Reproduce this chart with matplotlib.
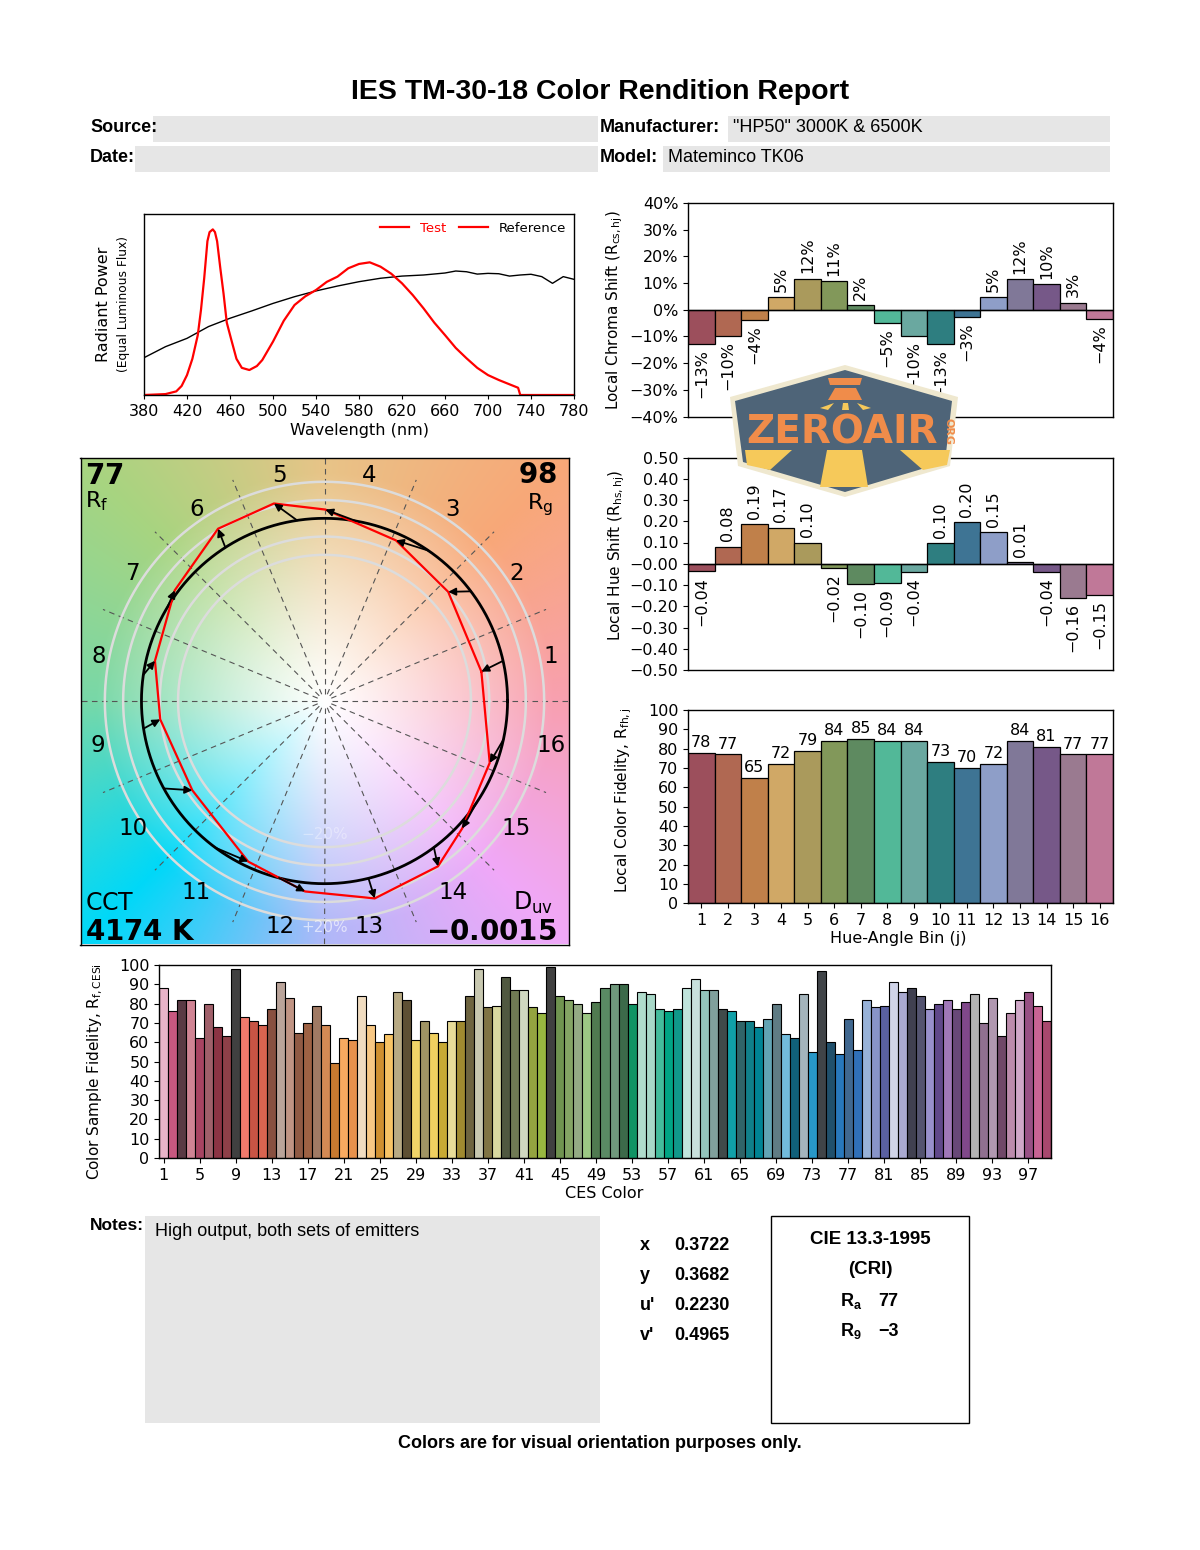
import numpy as np
import matplotlib
matplotlib.use('Agg')
import matplotlib.pyplot as plt
from matplotlib import font_manager
from matplotlib.lines import Line2D
from matplotlib.patches import Polygon, Rectangle
from matplotlib.colors import to_rgb
from matplotlib.ticker import FuncFormatter

# ---------------- data ----------------
bins = list(range(1, 17))
bin_colors = ['#9c4f5c', '#b06852', '#c0804a', '#d0a866', '#aa9a5c', '#82985a', '#5e8a60', '#52b898',
              '#6aa8a0', '#2e7e80', '#3e7494', '#8e9ec8', '#807898', '#765888', '#9a7a90', '#c07898']
rf_bins = [78, 77, 65, 72, 79, 84, 85, 84, 84, 73, 70, 72, 84, 81, 77, 77]
chroma_shift = [-12.8, -9.8, -3.8, 4.8, 11.6, 10.8, 1.8, -4.8, -9.7, -12.8, -2.7, 4.8, 11.5, 9.7, 2.6, -3.6]
hue_shift = [-0.036, 0.08, 0.186, 0.17, 0.10, -0.02, -0.096, -0.09, -0.04, 0.096, 0.196, 0.15, 0.006,
             -0.04, -0.16, -0.146]
ref_hue_deg = [12.7, 36.9, 55.4, 80.0, 98.6, 122.8, 149.0, 171.8, 188.7, 208.6, 233.4, 255.6, 283.9,
               306.7, 326.3, 347.8]

ces_rf = [88, 76, 82, 82, 62, 80, 68, 63, 98, 73, 71, 69, 77, 91, 83, 65, 70, 79, 69, 49,
          62, 61, 84, 69, 60, 64, 86, 82, 61, 71, 65, 60, 71, 71, 84, 98, 78, 79, 94, 87,
          87, 78, 75, 99, 84, 82, 80, 75, 81, 88, 90, 90, 80, 86, 85, 77, 76, 77, 88, 93,
          87, 87, 77, 76, 71, 71, 68, 72, 80, 64, 62, 85, 55, 97, 60, 54, 72, 56, 82, 78,
          79, 91, 86, 88, 84, 77, 80, 82, 77, 81, 85, 70, 83, 63, 75, 82, 86, 79, 71]
ces_colors = [
    '#e8b4c8', '#c85880', '#5a3a44', '#d08494', '#a84462', '#a0606a', '#8c3444', '#8e4048', '#404040', '#f07a6c',
    '#c85444', '#d86450', '#885040', '#baa49a', '#c09484', '#905a44', '#9e6244', '#a07a64', '#d48a54', '#c87a30',
    '#f8aa60', '#e8924c', '#f0dcc0', '#f8c884', '#d09030', '#f8c466', '#b8aa84', '#5e5034', '#f0d468', '#a09464',
    '#f0d060', '#c8aa34', '#e8dc98', '#a08a30', '#6e6440', '#c8c8b0', '#807444', '#d8d8a0', '#505840', '#707a54',
    '#d0d8c0', '#94a440', '#98b840', '#404040', '#709450', '#84a464', '#94aa84', '#9cc884', '#507a50', '#5a8a64',
    '#70987c', '#3c6a4a', '#109464', '#b0dccc', '#a8d8c8', '#44bc9c', '#00a484', '#10988a', '#c0e4dc', '#c8e0dc',
    '#94c4bc', '#80a09c', '#404a4a', '#10a0a8', '#306468', '#10808a', '#008494', '#62a4b4', '#607c84', '#72bcdc',
    '#10607a', '#a4b4bc', '#2898c8', '#404448', '#20506c', '#2878bc', '#406890', '#3070b8', '#98b2d8', '#8894c8',
    '#5a60a0', '#d0d4e8', '#aaaad0', '#404050', '#545470', '#9890cc', '#60488a', '#a078b8', '#684878', '#80488a',
    '#b4b4b4', '#907090', '#b098b0', '#704868', '#bc8cac', '#d0a8c8', '#985084', '#c86494', '#a8486e']

test_wl = [380, 400, 410, 415, 420, 425, 430, 433, 436, 439, 441, 444, 446, 448, 451, 454, 457, 461, 466, 471,
           478, 485, 490, 500, 510, 520, 530, 540, 550, 560, 570, 580, 590, 600, 610, 620, 630, 640, 650, 660,
           670, 680, 690, 700, 710, 720, 728, 730, 780]
test_spd = [0.0, 0.005, 0.02, 0.05, 0.11, 0.2, 0.33, 0.47, 0.645, 0.85, 0.9, 0.915, 0.9, 0.85, 0.7, 0.56, 0.4,
            0.31, 0.2, 0.15, 0.138, 0.16, 0.193, 0.295, 0.41, 0.497, 0.545, 0.58, 0.625, 0.654, 0.7, 0.724,
            0.733, 0.709, 0.67, 0.617, 0.552, 0.479, 0.40, 0.331, 0.26, 0.203, 0.15, 0.11, 0.083, 0.059, 0.04,
            0.0, 0.0]
ref_wl = [380, 400, 420, 440, 460, 480, 500, 520, 540, 560, 580, 600, 620, 640, 660, 670, 680, 690, 700,
          710, 720, 730, 740, 750, 760, 770, 780]
ref_spd = [0.206, 0.267, 0.313, 0.378, 0.424, 0.464, 0.506, 0.543, 0.575, 0.602, 0.626, 0.645, 0.657, 0.663,
           0.674, 0.685, 0.681, 0.668, 0.672, 0.670, 0.657, 0.663, 0.667, 0.654, 0.617, 0.654, 0.639]

Rf, Rg = 77, 98
CCT = 4174
Duv = -0.0015
chroma_xy = [('x', '0.3722'), ('y', '0.3682'), ("u'", '0.2230'), ("v'", '0.4965')]
Ra, R9 = 77, -3

# background hue anchors of the vector graphic
bg_deg = [0, 45, 90, 135, 180, 225, 270, 315]
bg_hex = ['#f8a0b0', '#f8a878', '#e8c488', '#a8d480', '#78d8a8', '#00d8f8', '#b0b8f8', '#f0a8f8']

# ---------------- helpers ----------------
names = {f.name for f in font_manager.fontManager.ttflist}
narrow = 'Liberation Sans' if 'Liberation Sans' in names else 'DejaVu Sans'
plt.rcParams['font.family'] = 'DejaVu Sans'
plt.rcParams['axes.linewidth'] = 1.0

W, H = 1200, 1550
fig = plt.figure(figsize=(12, 15.5), dpi=100)


def px_ax(l, t, w, h):
    return fig.add_axes([l / W, 1 - (t + h) / H, w / W, h / H])


def px_text(x, y, s, **kw):
    return fig.text(x / W, 1 - y / H, s, **kw)


def px_rect(l, t, w, h, **kw):
    fig.add_artist(Rectangle((l / W, 1 - (t + h) / H), w / W, h / H, transform=fig.transFigure, **kw))


def px_poly(pts, **kw):
    fig.add_artist(Polygon([(x / W, 1 - y / H) for x, y in pts], closed=True,
                           transform=fig.transFigure, **kw))


def minus(s):
    return s.replace('-', '\u2212')


# ---------------- header ----------------
px_text(600, 92, 'IES TM-30-18 Color Rendition Report', ha='center', va='center',
        fontsize=20.5, fontweight='bold', family=narrow)
px_rect(153, 116, 445, 26, color='#e6e6e6', lw=0)
px_rect(135, 146, 463, 26, color='#e6e6e6', lw=0)
px_rect(728, 116, 382, 26, color='#e6e6e6', lw=0)
px_rect(663, 146, 447, 26, color='#e6e6e6', lw=0)
px_text(90, 127, 'Source:', va='center', fontsize=13, fontweight='bold', family=narrow)
px_text(90, 157, 'Date:', va='center', fontsize=13, fontweight='bold', family=narrow)
px_text(600, 127, 'Manufacturer:', va='center', fontsize=13, fontweight='bold', family=narrow)
px_text(600, 157, 'Model:', va='center', fontsize=13, fontweight='bold', family=narrow)
px_text(733, 127, '"HP50" 3000K & 6500K', va='center', fontsize=13, family=narrow)
px_text(668, 157, 'Mateminco TK06', va='center', fontsize=13, family=narrow)

# ---------------- spectrum ----------------
ax = px_ax(144, 214, 430, 181)
ax.plot(ref_wl, ref_spd, color='black', lw=1.0)
ax.plot(test_wl, test_spd, color='red', lw=1.6)
ax.set_xlim(380, 780)
ax.set_ylim(0, 1)
ax.set_yticks([])
ax.set_xticks(range(380, 781, 40))
ax.tick_params(axis='x', labelsize=11.5, length=3)
leg = ax.legend([Line2D([], [], color='red', lw=1.6), Line2D([], [], color='red', lw=1.6)],
                ['Test', 'Reference'], loc='upper right', ncol=2, frameon=False, fontsize=9.5,
                handlelength=2.2, columnspacing=1.0, borderaxespad=0.2)
leg.get_texts()[0].set_color('red')
px_text(359, 431, 'Wavelength (nm)', ha='center', va='center', fontsize=11.5)
px_text(104, 304, 'Radiant Power', ha='center', va='center', rotation=90, fontsize=11.5)
px_text(123, 304, '(Equal Luminous Flux)', ha='center', va='center', rotation=90, fontsize=8.8)

# ---------------- color vector graphic ----------------
vg = px_ax(80.5, 457.5, 488, 487)
lim = 1.333
g = np.linspace(-lim, lim, 500)
X, Y = np.meshgrid(g, g)
ang = np.degrees(np.arctan2(Y, X)) % 360
rad = np.hypot(X, Y)
anc = np.array([to_rgb(c) for c in bg_hex + [bg_hex[0]]])
img = np.stack([np.interp(ang, bg_deg + [360], anc[:, k]) for k in range(3)], axis=-1)
tw = np.clip(rad / 1.25, 0, 1) ** 1.1
img = 1 - (1 - img) * tw[..., None]
vg.imshow(img, extent=[-lim, lim, -lim, lim], origin='lower', aspect='auto', zorder=0)

for k in range(16):
    a = np.radians(k * 22.5)
    L = 1.34 if k % 4 == 0 else 1.31
    vg.plot([0.04 * np.cos(a), L * np.cos(a)], [0.04 * np.sin(a), L * np.sin(a)],
            ls=(0, (5, 4)), color='#555555', lw=0.8, zorder=1)

th = np.linspace(0, 2 * np.pi, 361)
for rr in [0.8, 0.9, 1.1, 1.2]:
    vg.plot(rr * np.cos(th), rr * np.sin(th), color='#dcdcdc', lw=1.8, zorder=2)
vg.plot(np.cos(th), np.sin(th), color='black', lw=2.0, zorder=3)

th_r = np.radians(ref_hue_deg)
th_t = th_r + np.array(hue_shift)
r_t = 1 + np.array(chroma_shift) / 100
xt, yt = r_t * np.cos(th_t), r_t * np.sin(th_t)
vg.plot(np.append(xt, xt[0]), np.append(yt, yt[0]), color='red', lw=1.6, zorder=4)
for j in range(16):
    vg.annotate('', xy=(xt[j], yt[j]), xytext=(np.cos(th_r[j]), np.sin(th_r[j])),
                arrowprops=dict(arrowstyle='-|>', color='black', lw=1.3, mutation_scale=11,
                                shrinkA=0, shrinkB=0), zorder=5)
for j in bins:
    a = np.radians((j - 0.5) * 22.5)
    vg.text(1.26 * np.cos(a), 1.26 * np.sin(a), str(j), ha='center', va='center', fontsize=16.5, zorder=6)
vg.text(0, -1.24, '+20%', ha='center', va='center', color='white', alpha=0.6, fontsize=11, zorder=6)
vg.text(0, -0.73, '\u221220%', ha='center', va='center', color='white', alpha=0.35, fontsize=11, zorder=6)
vg.set_xlim(-lim, lim)
vg.set_ylim(-lim, lim)
vg.set_xticks([])
vg.set_yticks([])

px_text(85, 484, rf'$\mathbf{{{Rf}}}$', fontsize=20, va='baseline')
px_text(85, 507, r'R$_\mathregular{f}$', fontsize=16, va='baseline')
px_text(557, 483, rf'$\mathbf{{{Rg}}}$', fontsize=20, va='baseline', ha='right')
px_text(553, 509, r'R$_\mathregular{g}$', fontsize=16, va='baseline', ha='right')
px_text(85, 910, r'$\mathregular{CCT}$', fontsize=17, va='baseline')
px_text(85, 940, rf'$\mathbf{{{CCT}\ K}}$', fontsize=20, va='baseline')
px_text(553, 910, r'D$_\mathregular{uv}$', fontsize=17, va='baseline', ha='right')
px_text(557, 940, rf'$\mathbf{{{Duv:.4f}}}$', fontsize=20, va='baseline', ha='right')

# ---------------- local chroma shift ----------------
ax = px_ax(688, 203, 425, 213.5)
ax.bar(bins, chroma_shift, width=1.0, color=bin_colors, edgecolor='black', lw=0.9)
ax.axhline(0, color='black', lw=1.0)
for b, v in zip(bins, chroma_shift):
    lbl = minus(f'{v:.0f}%')
    if v >= 0:
        ax.text(b, v + 2, lbl, rotation=90, ha='center', va='bottom', fontsize=11.5)
    else:
        ax.text(b, v - 2, lbl, rotation=90, ha='center', va='top', fontsize=11.5)
ax.set_xlim(0.5, 16.5)
ax.set_ylim(-40, 40)
ax.set_xticks([])
ax.set_yticks(range(-40, 41, 10))
ax.yaxis.set_major_formatter(FuncFormatter(lambda v, p: minus(f'{v:.0f}%')))
ax.tick_params(labelsize=11.5)
px_text(615, 310, r'Local Chroma Shift (R$_\mathregular{cs,hj}$)', rotation=90, ha='center', va='center',
        fontsize=11)

# ---------------- local hue shift ----------------
ax = px_ax(688, 457.5, 425, 212.5)
ax.bar(bins, hue_shift, width=1.0, color=bin_colors, edgecolor='black', lw=0.9)
ax.axhline(0, color='black', lw=1.0)
for b, v in zip(bins, hue_shift):
    lbl = minus(f'{v:.2f}')
    if v >= 0:
        ax.text(b, v + 0.025, lbl, rotation=90, ha='center', va='bottom', fontsize=11.5)
    else:
        ax.text(b, v - 0.025, lbl, rotation=90, ha='center', va='top', fontsize=11.5)
ax.set_xlim(0.5, 16.5)
ax.set_ylim(-0.5, 0.5)
ax.set_xticks([])
ax.set_yticks(np.arange(-0.5, 0.51, 0.1))
ax.yaxis.set_major_formatter(FuncFormatter(lambda v, p: minus(f'{v:.2f}')))
ax.tick_params(labelsize=11.5)
px_text(617, 555, r'Local Hue Shift (R$_\mathregular{hs,hj}$)', rotation=90, ha='center', va='center',
        fontsize=11)

# ---------------- local color fidelity ----------------
ax = px_ax(688, 710, 425, 193.3)
ax.bar(bins, rf_bins, width=1.0, color=bin_colors, edgecolor='black', lw=0.9)
for b, v in zip(bins, rf_bins):
    ax.text(b, v + 1.5, f'{v}', ha='center', va='bottom', fontsize=11.5)
ax.set_xlim(0.5, 16.5)
ax.set_ylim(0, 100)
ax.set_xticks(bins)
ax.set_yticks(range(0, 101, 10))
ax.tick_params(labelsize=11.5)
px_text(898, 939, 'Hue-Angle Bin (j)', ha='center', va='center', fontsize=11.5)
px_text(624, 800, r'Local Color Fidelity, R$_\mathregular{fh,j}$', rotation=90, ha='center', va='center',
        fontsize=11)

# ---------------- CES fidelity ----------------
ces_idx = np.arange(1, len(ces_rf) + 1)
ax = px_ax(159.3, 965, 891.4, 193)
ax.bar(ces_idx, ces_rf, width=1.0, color=ces_colors, edgecolor='black', lw=0.8)
ax.set_xlim(0.5, 99.5)
ax.set_ylim(0, 100)
ax.set_xticks(range(1, 100, 4))
ax.set_yticks(range(0, 101, 10))
ax.tick_params(labelsize=11.5)
px_text(604, 1194, 'CES Color', ha='center', va='center', fontsize=11.5)
px_text(95, 1072, r'Color Sample Fidelity, R$_\mathregular{f,CESi}$', rotation=90, ha='center',
        va='center', fontsize=11)

# ---------------- notes / chromaticity / CRI ----------------
px_rect(145, 1216, 455, 207, color='#e6e6e6', lw=0)
px_text(90, 1226, 'Notes:', va='center', fontsize=12.5, fontweight='bold', family=narrow)
px_text(155, 1231, 'High output, both sets of emitters', va='center', fontsize=13, family=narrow)
for i, (k, v) in enumerate(chroma_xy):
    px_text(640, 1246 + 30 * i, k, va='center', fontsize=13, fontweight='bold', family=narrow)
    px_text(674, 1246 + 30 * i, v, va='center', fontsize=13, fontweight='bold', family=narrow)
px_rect(771, 1216, 198, 207, fill=False, edgecolor='black', lw=1.0)
px_text(870, 1240, 'CIE 13.3-1995', ha='center', va='center', fontsize=13.5, fontweight='bold', family=narrow)
px_text(870, 1270, '(CRI)', ha='center', va='center', fontsize=13.5, fontweight='bold', family=narrow)
px_text(840, 1301, r'R$_\mathregular{a}$', va='center', fontsize=13, fontweight='bold', family=narrow)
px_text(878, 1301, f'{Ra}', va='center', fontsize=13, fontweight='bold', family=narrow)
px_text(840, 1331, r'R$_\mathregular{9}$', va='center', fontsize=13, fontweight='bold', family=narrow)
px_text(878, 1331, minus(f'{R9}'), va='center', fontsize=13, fontweight='bold', family=narrow)
px_text(600, 1444, 'Colors are for visual orientation purposes only.', ha='center', va='center',
        fontsize=13, fontweight='bold', family=narrow)

# ---------------- watermark badge ----------------
px_poly([(845, 365), (958, 397), (950, 466), (845, 497), (738, 466), (730, 397)],
        facecolor='#efe8cf', edgecolor='none', zorder=10)
px_poly([(845, 370), (952, 401), (945, 462), (845, 492), (743, 462), (735, 401)],
        facecolor='#4e6478', edgecolor='none', zorder=11)
px_poly([(745, 450), (792, 450), (770, 470), (747, 465)], facecolor='#f6c95a', edgecolor='none', zorder=12)
px_poly([(827, 450), (862, 450), (868, 487), (820, 487)], facecolor='#f6c95a', edgecolor='none', zorder=12)
px_poly([(900, 450), (950, 450), (947, 465), (923, 470)], facecolor='#f6c95a', edgecolor='none', zorder=12)
px_poly([(828, 378), (862, 378), (860, 385), (830, 385)], facecolor='#f08c4a', edgecolor='none', zorder=12)
px_poly([(835, 388), (856, 388), (862, 400), (828, 400)], facecolor='#f08c4a', edgecolor='none', zorder=12)
px_poly([(820, 408), (834, 403), (828, 410)], facecolor='#f6c95a', edgecolor='none', zorder=12)
px_poly([(843, 403), (848, 403), (849, 410), (842, 410)], facecolor='#f6c95a', edgecolor='none', zorder=12)
px_poly([(857, 403), (871, 408), (863, 410)], facecolor='#f6c95a', edgecolor='none', zorder=12)
px_text(842, 433, 'ZEROAIR', ha='center', va='center', fontsize=28, fontweight='bold', color='#f08c4a',
        zorder=13)
px_text(948, 432, 'ORG', ha='center', va='center', rotation=-90, fontsize=8, fontweight='bold',
        color='#f08c4a', zorder=13)

fig.savefig('out.png', dpi=100)
